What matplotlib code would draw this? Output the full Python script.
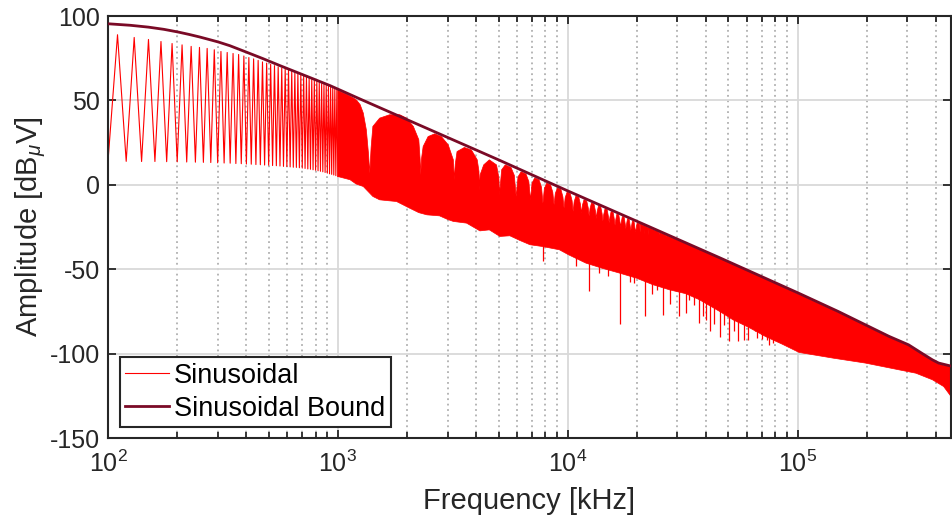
import matplotlib
matplotlib.use("Agg")
import matplotlib.pyplot as plt
import numpy as np

plt.rcParams['font.family'] = ['Liberation Sans', 'DejaVu Sans']
plt.rcParams['mathtext.fontset'] = 'custom'
plt.rcParams['mathtext.rm'] = 'Liberation Sans'
plt.rcParams['mathtext.it'] = 'Liberation Sans:italic'
plt.rcParams['axes.unicode_minus'] = False

# low frequency part: odd harmonics (peaks) and even harmonics (troughs), kHz / dBuV
peak_freq = np.arange(110, 1000, 20)
peak_db = [88.9, 87.3, 86.1, 84.9, 83.7, 82.9, 82.0, 81.4, 80.8, 80.0, 79.0, 78.4, 77.8,
           77.2, 76.3, 75.4, 74.6, 73.7, 72.8, 72.1, 71.4, 70.6, 69.9, 69.2, 68.6,
           68.0, 67.2, 66.5, 65.8, 65.1, 64.4, 63.7, 63.1, 62.5, 61.9, 61.3, 60.6,
           60.0, 59.4, 58.8, 58.3, 57.8, 57.3, 56.8, 56.3]
trough_freq = np.arange(100, 1001, 20)
trough_db = [13.9, 13.9, 13.8, 13.8, 13.7, 13.6, 13.5, 13.4, 13.3, 13.2, 13.0, 12.9, 12.8,
             12.6, 12.5, 12.3, 12.2, 12.0, 11.9, 11.7, 11.6, 11.4, 11.3, 11.1, 10.9, 10.8,
             10.6, 10.4, 10.3, 10.1, 9.9, 9.7, 9.4, 9.2, 8.9, 8.6, 8.3, 8.0, 7.7, 7.3,
             6.9, 6.5, 6.2, 5.8, 5.4, 4.9]

# dense part: upper edge (lobes and notches) and lower edge
upper_freq = [1000, 1020, 1100, 1170, 1205, 1250, 1290, 1330, 1360, 1377,
              1395, 1420, 1520, 1680, 1860, 1990, 2130, 2250, 2280, 2295,
              2310, 2350, 2470, 2640, 2820, 3020, 3180, 3213,
              3240, 3300, 3550, 3810, 4040, 4110, 4131,
              4160, 4310, 4560, 4900, 5020, 5049,
              5159, 5349, 5667, 5857, 5967,
              6077, 6267, 6585, 6775, 6885,
              6995, 7185, 7503, 7693, 7803,
              7913, 8103, 8421, 8611, 8721,
              8831, 9021, 9339, 9529, 9639,
              9749, 9939, 10257, 10447, 10557,
              10667, 10857, 11175, 11365, 11475,
              11585, 11775, 12093, 12283, 12393,
              12503, 12693, 13011, 13201, 13311,
              13421, 13611, 13929, 14119, 14229,
              14339, 14529, 14847, 15037, 15147,
              15257, 15447, 15765, 15955, 16065,
              16175, 16365, 16683, 16873, 16983,
              17093, 17283, 17601, 17791, 17901,
              18011, 18201, 18519, 18709, 18819,
              18929, 19119, 19437, 19627, 19737,
              19847, 20037,
              20575, 20655, 20735, 21493, 21573, 21653, 22411, 22491, 22571,
              23329, 23409, 23489, 24247, 24327, 24407, 25165, 25245, 25325,
              26083, 26163, 26243, 27001, 27081, 27161,
              30000, 45800, 70000, 101000, 150000, 197000, 250000, 304000,
              350000, 386000, 411000, 440000, 465000]
upper_db = [56.3, 55.3, 53.3, 51.4, 50.2, 47.5, 42.5, 32.6, 18.0, 6.9,
            22.0, 34.6, 39.5, 41.5, 41.5, 39.5, 34.6, 26.7, 15.0, 5.9,
            15.0, 22.7, 28.6, 30.2, 28.6, 23.7, 14.8, 3.0,
            12.0, 19.7, 22.1, 20.7, 14.8, 8.0, -3.0,
            6.0, 11.8, 14.8, 11.8, 4.0, -5.9,
            8.9, 11.8, 10.3, 5.6, -6.9,
            4.7, 7.7, 6.4, 1.9, -8.9,
            1.0, 4.1, 3.0, -1.5, -10.9,
            -2.2, 1.0, 0.0, -4.4, -11.8,
            -5.1, -1.8, -2.7, -7.1, -13.8,
            -7.6, -4.3, -5.2, -9.4, -15.8,
            -10.0, -6.6, -7.4, -11.6, -16.8,
            -12.1, -8.8, -9.5, -13.7, -18.5,
            -14.1, -10.7, -11.4, -15.5, -20.0,
            -16.0, -12.5, -13.1, -17.3, -21.5,
            -17.7, -14.2, -14.8, -18.9, -22.5,
            -19.3, -15.8, -16.4, -20.5, -24.0,
            -20.8, -17.3, -17.8, -21.9, -25.0,
            -22.3, -18.8, -19.2, -23.3, -26.0,
            -23.6, -20.1, -20.6, -24.6, -27.0,
            -24.9, -21.4, -21.8, -25.9, -28.0,
            -26.2, -22.6,
            -23.2, -28.2, -23.3, -24.3, -29.0, -24.4, -25.4, -29.8, -25.5,
            -26.4, -30.5, -26.5, -27.4, -31.0, -27.5, -28.4, -31.4, -28.5,
            -29.3, -31.8, -29.4, -30.2, -32.3, -30.3,
            -32.7, -43.5, -54.6, -64.8, -75.5, -83.5, -90.3, -95.3,
            -100.6, -104.2, -106.1, -107.2, -107.7]
lower_freq = [1000, 1130, 1200, 1290, 1420, 1520, 1650, 1800, 2050, 2250, 2440, 2770,
              3000, 3180, 3630, 4150, 4560, 5070, 5600, 6200, 6850, 7800, 9200,
              10100, 12000, 14100, 16800, 19900, 23500, 27700, 32600, 37300, 45800,
              52400, 61400, 72800, 86000, 101500, 143000, 197000, 276000, 327000,
              386000, 432000, 465000]
lower_db = [4.9, 3.0, 0.5, -1.0, -6.9, -8.9, -9.4, -9.9, -13.8, -16.5, -17.8, -18.4,
            -20.5, -21.7, -22.7, -27.3, -26.7, -30.6, -30.2, -33.0, -35.5, -36.6, -38.5,
            -41.5, -46.4, -49.4, -52.3, -55.3, -59.2, -62.2, -64.5, -68.0, -75.0,
            -80.0, -84.5, -90.0, -94.5, -99.3, -102.7, -105.6, -109.6, -111.6,
            -115.5, -119.5, -125.4]

# single deep lines below the dense part
spike_freq = [7770, 10900, 12400, 13700, 15000, 16940, 18600, 19500, 21600, 23300,
              24400, 26100, 27900, 30600, 32600, 33600, 35300, 37200, 38700, 39800,
              41400, 43500, 45900, 48000, 50500, 53000, 54800, 58300, 60800, 65100,
              66300, 70000, 73300, 75300, 77900]
spike_low = [-45.4, -48.4, -63.2, -52.3, -54.0, -82.3, -57.3, -57.9, -78.0, -64.6,
             -62.2, -77.0, -70.5, -78.0, -76.0, -68.1, -71.5, -81.9, -78.0, -80.0,
             -86.9, -82.3, -90.2, -82.9, -92.8, -86.9, -92.8, -91.8, -91.8, -86.9,
             -90.8, -91.5, -91.8, -94.8, -93.8]
spike_high = [-34, -40, -44, -46, -48, -50, -52, -53, -56, -57,
              -58, -60, -61, -62, -63, -64, -65, -66, -67, -68,
              -69, -71, -73, -76, -77, -79, -80, -82, -83, -85,
              -86, -88, -89, -90, -91]

bound_freq = [100, 125, 150, 175, 202, 225, 250, 275, 302, 339, 400, 473, 560, 661, 780,
              923, 1000, 1250, 2000, 5000, 10000, 20000, 45800, 101000, 150000, 197000,
              250000, 304000, 350000, 386000, 411000, 440000, 465000]
bound_db = [95.4, 94.5, 93.4, 92.1, 90.5, 89.1, 87.6, 86.1, 84.6, 82.4, 78.6, 74.7, 70.6,
            66.7, 62.8, 58.8, 56.7, 50.8, 38.6, 14.8, -3.6, -21.6, -43.2, -64.2, -75.0,
            -82.9, -89.8, -94.8, -100.1, -103.7, -105.6, -106.6, -107.4]

red = '#ff0000'
dark = '#7a0a26'

fig = plt.figure(figsize=(9.52, 5.29), dpi=100)
ax = fig.add_axes([108 / 952, 1 - 438 / 529, 843 / 952, 422 / 529])

zig_f = np.concatenate([trough_freq, peak_freq])
zig_db = np.concatenate([trough_db, peak_db])
order = np.argsort(zig_f)
ax.plot(zig_f[order], zig_db[order], color=red, lw=0.8, label='Sinusoidal', zorder=2)

poly_f = np.concatenate([upper_freq, lower_freq[::-1]])
poly_db = np.concatenate([upper_db, lower_db[::-1]])
ax.fill(poly_f, poly_db, color=red, ec=red, lw=0.5, zorder=2)
ax.vlines(spike_freq, spike_low, spike_high, color=red, lw=0.9, zorder=2)

ax.plot(bound_freq, bound_db, color=dark, lw=2.0, label='Sinusoidal Bound', zorder=3)

ax.set_xscale('log')
ax.set_xlim(100, 4.65e5)
ax.set_ylim(-150, 100)
ax.set_yticks(np.arange(-150, 101, 50))
ax.set_xticks([1e2, 1e3, 1e4, 1e5])

ax.set_axisbelow(True)
ax.grid(which='major', color='#d9d9d9', lw=1.3, ls='-')
ax.grid(which='minor', axis='x', color='#b0b0b0', lw=1.3, ls=(0, (1, 2)))

for s in ax.spines.values():
    s.set_color('#262626')
    s.set_linewidth(1.5)
ax.tick_params(which='both', direction='in', top=True, right=True, colors='#262626',
               labelsize=18, width=1.3)
ax.tick_params(which='major', length=6)
ax.tick_params(which='minor', length=4)
ax.tick_params(axis='x', pad=9)
ax.tick_params(axis='y', pad=6)

ax.set_xlabel('Frequency [kHz]', fontsize=21, color='#262626')
ax.set_ylabel(r'Amplitude [dB$_{\mu}$V]', fontsize=21, color='#262626')
ax.xaxis.set_label_coords(0.5, -0.115)
ax.yaxis.set_label_coords(-0.071, 0.5)

leg = ax.legend(loc='lower left', bbox_to_anchor=(0.014, 0.026), borderaxespad=0,
                fancybox=False, framealpha=1, edgecolor='#262626', fontsize=19.5,
                handlelength=1.6, handletextpad=0.2, labelspacing=0.25, borderpad=0.2)
leg.get_frame().set_linewidth(1.5)

fig.savefig('out.png', dpi=100)
